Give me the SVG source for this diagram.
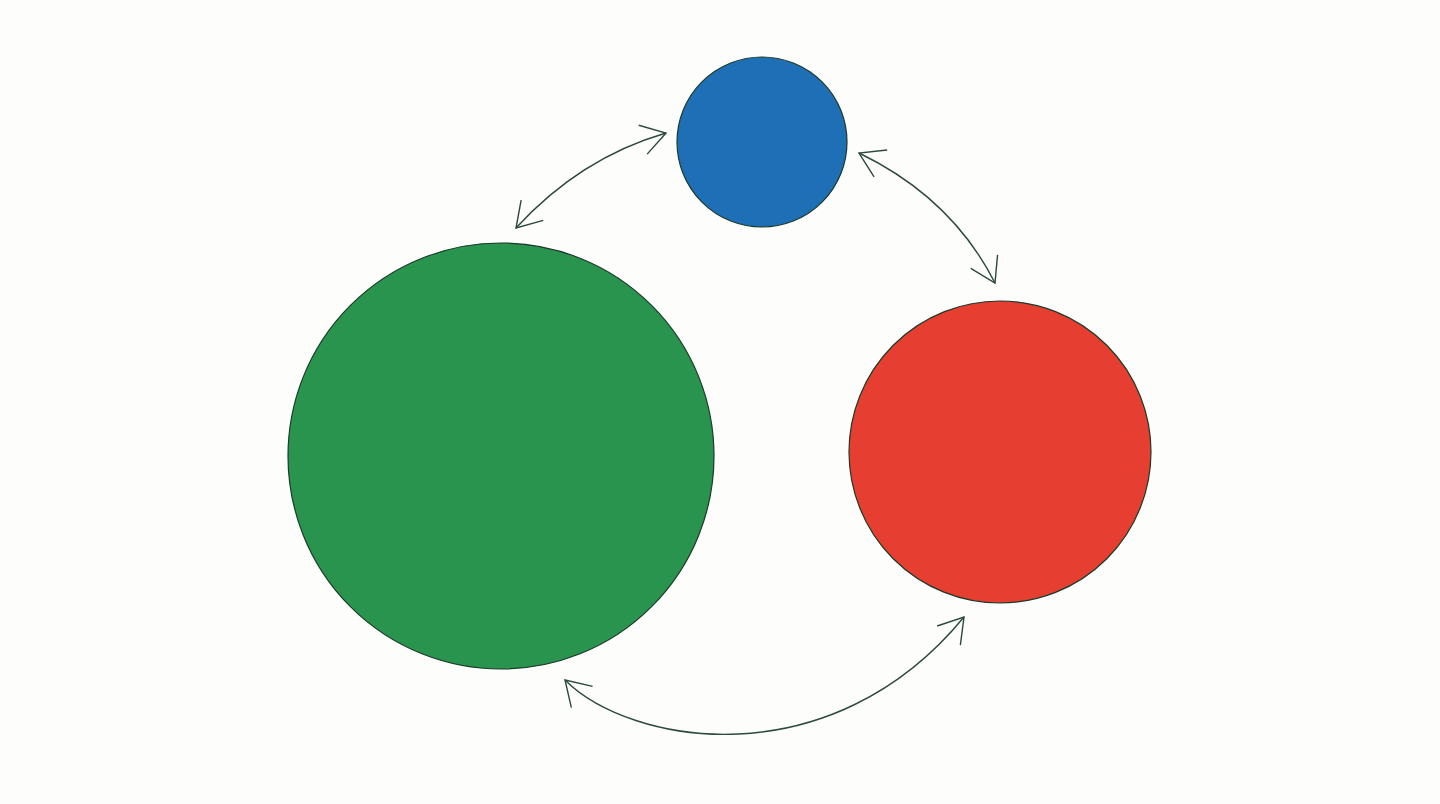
<svg xmlns="http://www.w3.org/2000/svg" width="1440" height="804" viewBox="0 0 1440 804">
<style>
.node{stroke:#1c3a2a;stroke-width:1.2}
.conn{fill:none;stroke:#2b4a3c;stroke-width:1.4;marker-start:url(#ah);marker-end:url(#ah)}
</style>
<defs>
<marker id="ah" viewBox="0 0 30 32" refX="25" refY="16" markerWidth="30" markerHeight="32" markerUnits="userSpaceOnUse" orient="auto-start-reverse">
<path d="M1,1 L25,16 L1,31" fill="none" stroke="#2b4a3c" stroke-width="1.4"/>
</marker>
</defs>
<rect width="1440" height="804" fill="#fdfdfb"/>
<g id="node-blue"><circle class="node" cx="762" cy="142" r="85" fill="#1f6fb6"/></g>
<g id="node-green"><circle class="node" cx="501" cy="456" r="213" fill="#28944e"/></g>
<g id="node-red"><circle class="node" cx="1000" cy="452" r="151" fill="#e63e30"/></g>
<g id="connectors">
<path class="conn" d="M516,228 Q580,158 666,133"/>
<path class="conn" d="M859,153 Q952,198 995,283"/>
<path class="conn" d="M565,680 C630,745 830,780 964,617"/>
</g>
</svg>
